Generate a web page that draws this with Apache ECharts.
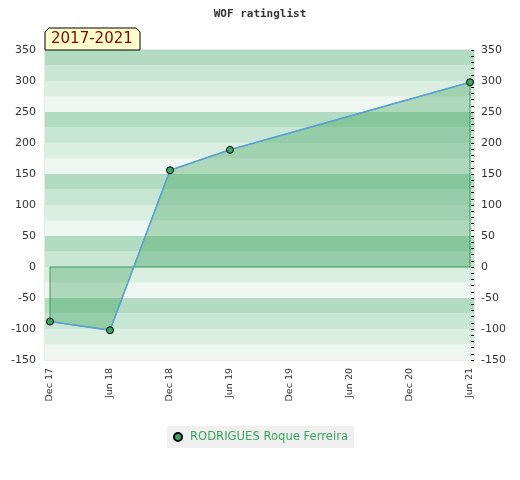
<!DOCTYPE html>
<html>
<head>
<meta charset="utf-8">
<script src="https://cdn.jsdelivr.net/npm/echarts@6/dist/echarts.min.js"></script>
<style>html,body{margin:0;padding:0;background:#fff}#c{width:520px;height:480px}</style>
</head>
<body>
<div id="c"></div>
<script>
// Data
var dates = ['2017-12', '2018-06', '2018-12', '2019-06', '2021-06'];
var ratings = [-88, -102, 156, 189, 298];
var tickDates = ['2017-12', '2018-06', '2018-12', '2019-06', '2019-12', '2020-06', '2020-12', '2021-06'];
var tickLabels = ['Dec 17', 'Jun 18', 'Dec 18', 'Jun 19', 'Dec 19', 'Jun 20', 'Dec 20', 'Jun 21'];
var playerName = 'RODRIGUES Roque Ferreira';
var titleText = 'WOF ratinglist';
var periodText = '2017-2021';

function monthIndex(s) {
  var p = s.split('-');
  return (parseInt(p[0], 10) - 2017) * 12 + (parseInt(p[1], 10) - 12);
}
var tickVals = tickDates.map(monthIndex);
var pts = dates.map(function (d, i) { return [monthIndex(d), ratings[i]]; });
var outline = [[pts[0][0], 0]].concat(pts).concat([[pts[pts.length - 1][0], 0], [pts[0][0], 0]]);
var labelMap = {};
tickVals.forEach(function (v, i) { labelMap[v] = tickLabels[i]; });

var chart = echarts.init(document.getElementById('c'), null, { renderer: 'canvas' });
var axisFont = { fontFamily: 'DejaVu Sans', fontSize: 11, color: '#333' };
chart.setOption({
  animation: false,
  backgroundColor: '#fff',
  title: {
    text: titleText, left: 'center', top: 4,
    textStyle: { fontFamily: 'DejaVu Sans Mono', fontWeight: 'bold', fontSize: 11, color: '#333' }
  },
  graphic: [{
    type: 'polygon', z: 100,
    shape: { points: [[45, 50], [45, 32], [49, 28], [136, 28], [140, 32], [140, 50]] },
    style: { fill: '#ffffcc', stroke: '#000', lineWidth: 1 }
  }, {
    type: 'text', z: 101, left: 51, top: 32,
    style: { text: periodText, fill: '#8b0000', font: '15px "DejaVu Sans"' }
  }],
  legend: {
    data: [playerName], left: 167, top: 426,
    backgroundColor: '#f0f0f0', padding: [5, 6],
    itemWidth: 14, itemHeight: 8, icon: 'circle',
    textStyle: { fontFamily: 'DejaVu Sans', fontSize: 11.6, color: '#3aa860' }
  },
  grid: { left: 45, top: 50, right: 46, bottom: 120, show: true, borderColor: '#d0d0d0', borderWidth: 1, backgroundColor: 'transparent' },
  xAxis: {
    type: 'value', min: -0.5, max: 42.4,
    axisLine: { show: false }, splitLine: { show: false },
    axisTick: { show: false, customValues: tickVals },
    axisLabel: {
      rotate: 90, margin: 8, customValues: tickVals,
      fontFamily: 'DejaVu Sans', fontSize: 9.5, color: '#333',
      formatter: function (v) { return labelMap[v] || ''; }
    }
  },
  yAxis: [{
    type: 'value', min: -150, max: 350, interval: 50, position: 'left',
    axisLine: { show: false }, axisTick: { show: false }, splitLine: { show: false },
    axisLabel: Object.assign({ margin: 9 }, axisFont)
  }, {
    type: 'value', min: -150, max: 350, interval: 50, position: 'right',
    axisLine: { show: false }, splitLine: { show: false },
    axisTick: { show: true, inside: true, length: 3, lineStyle: { color: '#000' } },
    minorTick: { show: true, splitNumber: 5, length: 3, lineStyle: { color: '#000' } },
    axisLabel: Object.assign({ margin: 7 }, axisFont)
  }, {
    type: 'value', min: -150, max: 350, interval: 25, position: 'left',
    axisLine: { show: false }, axisTick: { show: false }, axisLabel: { show: false }, splitLine: { show: false },
    splitArea: { show: true, areaStyle: { color: ['#eff7f2', '#dbeee2', '#c8e6d4', '#b2dcc2'] } }
  }],
  series: [{
    name: playerName, type: 'line', data: pts, yAxisIndex: 0, z: 3,
    symbol: 'circle', symbolSize: 7,
    itemStyle: { color: '#3aa860', borderColor: '#000', borderWidth: 1 },
    lineStyle: { color: '#58a0dc', width: 1.5 },
    areaStyle: { color: 'rgba(55,160,85,0.5)', origin: 0 }
  }, {
    name: 'outline', type: 'line', data: outline, yAxisIndex: 0, z: 2,
    symbol: 'none', silent: true,
    lineStyle: { color: '#3a9a5a', width: 1 }
  }]
});
</script>
</body>
</html>
